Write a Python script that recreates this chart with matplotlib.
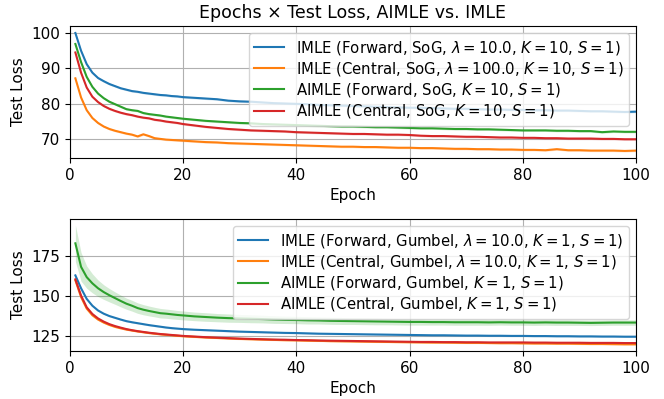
import matplotlib
matplotlib.use("Agg")
import matplotlib.pyplot as plt
import numpy as np

epochs = list(range(1, 21)) + list(range(22, 101, 2))

# ---- Top panel (SoG, K=10) ----
sog_imle_fwd = [100.0, 95.0, 91.2, 88.8, 87.3, 86.4, 85.6, 85.0, 84.4, 84.0,
                83.6, 83.4, 83.1, 82.9, 82.7, 82.5, 82.4, 82.2, 82.1, 81.9,
                81.7, 81.5, 81.3, 80.9, 80.7, 80.6, 80.4, 80.2, 80.1, 80.0,
                79.9, 79.7, 79.6, 79.5, 79.4, 79.3, 79.2, 79.1, 79.0, 78.9,
                78.9, 78.8, 78.7, 78.6, 78.6, 78.5, 78.4, 78.4, 78.3, 78.3,
                78.2, 78.2, 78.1, 78.1, 78.0, 77.9, 77.9, 77.8, 77.7, 77.8]
sog_imle_cen = [87.2, 81.8, 78.2, 76.0, 74.6, 73.6, 72.9, 72.4, 72.0, 71.6,
                71.3, 70.8, 71.4, 70.9, 70.3, 70.1, 69.9, 69.8, 69.7, 69.6,
                69.4, 69.2, 69.1, 68.9, 68.8, 68.7, 68.6, 68.5, 68.4, 68.3,
                68.2, 68.1, 68.0, 67.9, 67.9, 67.8, 67.8, 67.7, 67.6, 67.6,
                67.5, 67.5, 67.4, 67.3, 67.3, 67.2, 67.2, 67.1, 67.1, 67.0,
                67.0, 66.9, 67.2, 66.9, 66.9, 66.8, 66.8, 66.8, 66.7, 66.8]
sog_aimle_fwd = [96.9, 91.8, 87.6, 84.8, 82.9, 81.6, 80.6, 79.9, 79.2, 78.5,
                 78.2, 78.0, 77.4, 77.1, 76.9, 76.7, 76.4, 76.2, 76.0, 75.8,
                 75.5, 75.2, 75.0, 74.8, 74.6, 74.5, 74.3, 74.2, 74.1, 74.0,
                 73.9, 73.8, 73.7, 73.6, 73.6, 73.5, 73.4, 73.4, 73.3, 73.2,
                 73.1, 73.1, 73.0, 72.9, 72.9, 72.8, 72.8, 72.7, 72.6, 72.5,
                 72.5, 72.5, 72.4, 72.4, 72.3, 72.3, 72.0, 72.2, 72.1, 72.1]
sog_aimle_cen = [94.5, 88.8, 84.6, 82.0, 80.5, 79.4, 78.6, 78.0, 77.5, 77.1,
                 76.8, 76.4, 76.1, 75.9, 75.5, 75.3, 75.0, 74.8, 74.6, 74.3,
                 73.9, 73.5, 73.2, 72.9, 72.7, 72.5, 72.4, 72.3, 72.2, 72.0,
                 71.9, 71.8, 71.7, 71.6, 71.5, 71.5, 71.4, 71.3, 71.3, 71.2,
                 71.0, 70.9, 70.9, 70.8, 70.7, 70.7, 70.6, 70.5, 70.5, 70.4,
                 70.4, 70.3, 70.3, 70.2, 70.2, 70.2, 70.1, 70.1, 70.0, 70.0]

# ---- Bottom panel (Gumbel, K=1) ----
gum_imle_fwd = [163.1, 155.0, 148.3, 144.0, 141.0, 139.0, 137.5, 136.4, 135.3, 134.3,
                133.6, 133.0, 132.4, 131.8, 131.3, 130.8, 130.3, 129.9, 129.6, 129.3,
                128.9, 128.6, 128.3, 128.0, 127.7, 127.5, 127.3, 127.1, 126.9, 126.8,
                126.6, 126.4, 126.3, 126.2, 126.1, 126.0, 125.9, 125.8, 125.7, 125.6,
                125.5, 125.4, 125.4, 125.3, 125.2, 125.2, 125.1, 125.1, 125.0, 125.0,
                124.9, 124.9, 124.8, 124.8, 124.7, 124.7, 124.6, 124.6, 124.5, 124.5]
gum_imle_cen = [160.0, 149.5, 142.2, 138.0, 135.3, 133.4, 131.9, 130.7, 129.8, 129.0,
                128.4, 127.8, 127.3, 126.8, 126.4, 126.0, 125.7, 125.4, 125.1, 124.8,
                124.4, 124.0, 123.7, 123.4, 123.1, 122.9, 122.7, 122.5, 122.3, 122.2,
                122.0, 121.9, 121.7, 121.6, 121.5, 121.4, 121.3, 121.2, 121.1, 121.0,
                120.9, 120.8, 120.8, 120.7, 120.6, 120.6, 120.5, 120.4, 120.4, 120.3,
                120.2, 120.2, 120.1, 120.1, 120.0, 119.9, 119.9, 119.8, 119.7, 119.7]
gum_aimle_fwd = [183.3, 168.5, 162.0, 158.1, 155.0, 152.6, 150.6, 148.8, 147.0, 145.3,
                 144.0, 142.5, 141.5, 140.7, 140.0, 139.3, 139.0, 138.6, 138.2, 137.9,
                 137.3, 136.9, 136.5, 136.2, 136.0, 135.8, 135.6, 135.3, 135.1, 135.0,
                 134.8, 134.7, 134.5, 134.4, 134.3, 134.2, 134.1, 134.0, 133.9, 133.8,
                 133.8, 133.7, 133.7, 133.6, 133.6, 133.6, 133.5, 133.6, 133.5, 133.5,
                 133.4, 133.5, 133.4, 133.4, 133.3, 133.2, 133.3, 133.4, 133.4, 133.4]
gum_aimle_cen = [160.6, 150.4, 143.0, 138.8, 136.0, 134.0, 132.4, 131.2, 130.2, 129.3,
                 128.6, 128.0, 127.5, 127.0, 126.6, 126.2, 125.9, 125.6, 125.3, 125.0,
                 124.6, 124.2, 123.9, 123.6, 123.3, 123.1, 122.9, 122.7, 122.6, 122.4,
                 122.3, 122.1, 122.0, 121.9, 121.8, 121.7, 121.6, 121.5, 121.4, 121.3,
                 121.2, 121.2, 121.1, 121.1, 121.0, 121.0, 120.9, 120.9, 120.9, 120.9,
                 120.8, 120.8, 120.7, 120.7, 120.7, 120.6, 120.6, 120.6, 120.5, 120.5]
gum_aimle_fwd_std = [11.5, 9.0, 7.0, 6.0, 5.2, 4.6, 4.2, 3.9, 3.7, 3.5,
                     3.4, 3.3, 3.2, 3.1, 3.0, 3.0, 2.9, 2.9, 2.8, 2.8,
                     2.7, 2.7, 2.6, 2.6, 2.5, 2.5, 2.4, 2.4, 2.3, 2.3,
                     2.3, 2.2, 2.2, 2.2, 2.1, 2.1, 2.1, 2.0, 2.0, 2.0,
                     2.0, 1.9, 1.9, 1.9, 1.9, 1.9, 1.8, 1.8, 1.8, 1.8,
                     1.8, 1.8, 1.8, 1.8, 1.7, 1.7, 1.7, 1.7, 1.7, 1.7]
small_std_top = 0.3
small_std_bottom = 0.5

top_labels = [r"IMLE (Forward, SoG, $\lambda = 10.0$, $K = 10$, $S = 1$)",
              r"IMLE (Central, SoG, $\lambda = 100.0$, $K = 10$, $S = 1$)",
              r"AIMLE (Forward, SoG, $K = 10$, $S = 1$)",
              r"AIMLE (Central, SoG, $K = 10$, $S = 1$)"]
bottom_labels = [r"IMLE (Forward, Gumbel, $\lambda = 10.0$, $K = 1$, $S = 1$)",
                 r"IMLE (Central, Gumbel, $\lambda = 10.0$, $K = 1$, $S = 1$)",
                 r"AIMLE (Forward, Gumbel, $K = 1$, $S = 1$)",
                 r"AIMLE (Central, Gumbel, $K = 1$, $S = 1$)"]

colors = ["#1f77b4", "#ff7f0e", "#2ca02c", "#d62728"]
FS = 11

fig = plt.figure(figsize=(6.64, 3.99), dpi=100)
ax1 = fig.add_axes([0.105, 0.604, 0.853, 0.331])
ax2 = fig.add_axes([0.105, 0.120, 0.853, 0.331])

x = np.array(epochs)
top_series = [sog_imle_fwd, sog_imle_cen, sog_aimle_fwd, sog_aimle_cen]
for s, lab, c in zip(top_series, top_labels, colors):
    y = np.array(s)
    ax1.plot(x, y, color=c, lw=1.5, label=lab)
    ax1.fill_between(x, y - small_std_top, y + small_std_top, color=c, alpha=0.2, lw=0)

bottom_series = [gum_imle_fwd, gum_imle_cen, gum_aimle_fwd, gum_aimle_cen]
for i, (s, lab, c) in enumerate(zip(bottom_series, bottom_labels, colors)):
    y = np.array(s)
    ax2.plot(x, y, color=c, lw=1.5, label=lab)
    sd = np.array(gum_aimle_fwd_std) if i == 2 else small_std_bottom
    ax2.fill_between(x, y - sd, y + sd, color=c, alpha=0.2, lw=0)

for ax in (ax1, ax2):
    ax.set_xlim(0, 100)
    ax.grid(True, color="#b0b0b0", lw=0.8)
    ax.set_axisbelow(True)
    ax.set_xlabel("Epoch", fontsize=FS)
    ax.set_ylabel("Test Loss", fontsize=FS)
    ax.tick_params(labelsize=FS)
    ax.legend(loc="upper right", fontsize=10.7, framealpha=0.8,
              labelspacing=0.22, borderpad=0.35, handlelength=2.0,
              handletextpad=0.8)

ax1.set_yticks([70, 80, 90, 100])
ax2.set_yticks([125, 150, 175])
ax1.set_title("Epochs \u00d7 Test Loss, AIMLE vs. IMLE", fontsize=12.5)

fig.savefig("out.png", dpi=100)
